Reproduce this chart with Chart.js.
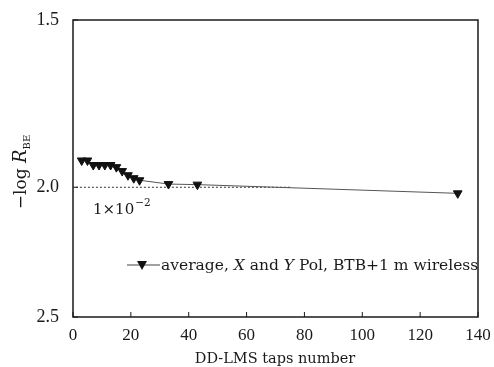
<!DOCTYPE html>
<html>
<head>
<meta charset="utf-8">
<script src="https://cdn.jsdelivr.net/npm/chart.js@4.4.0/dist/chart.umd.min.js"></script>
<style>
  html, body { margin: 0; padding: 0; background: #fff; }
  #wrap { width: 494px; height: 367px; }
</style>
</head>
<body>
<div id="wrap"><canvas id="myChart"></canvas></div>
<script>
// values
var taps = [3, 5, 7, 9, 11, 13, 15, 17, 19, 21, 23, 33, 43, 133];
var logBer = [1.91, 1.91, 1.925, 1.925, 1.925, 1.925, 1.932, 1.945, 1.959, 1.969, 1.976, 1.989, 1.991, 2.021];
var xTicks = [0, 20, 40, 60, 80, 100, 120, 140];
var yTicks = [1.5, 2.0, 2.5];
var limitX = [1, 75];
var limitY = 2.0;

var serif = "'Liberation Serif', 'DejaVu Serif', serif";
var wide = "'DejaVu Serif', serif";
var ink = "#1a1a1a";

// box, inward ticks, axis titles, legend and the 1x10^-2 label
let decorations = {
    id: "decorations",
    afterDraw: (chart) => {
        var ctx = chart.ctx;
        var a = chart.chartArea;
        var xs = chart.scales.x;
        var ys = chart.scales.y;
        ctx.save();
        ctx.strokeStyle = ink;
        ctx.lineWidth = 1.5;
        ctx.strokeRect(a.left, a.top, a.right - a.left, a.bottom - a.top);

        ctx.lineWidth = 1;
        xTicks.forEach((v) => {
            var px = xs.getPixelForValue(v);
            ctx.beginPath();
            ctx.moveTo(px, a.bottom);
            ctx.lineTo(px, a.bottom - 5);
            ctx.stroke();
        });
        yTicks.forEach((v) => {
            var py = ys.getPixelForValue(v);
            ctx.beginPath();
            ctx.moveTo(a.left, py);
            ctx.lineTo(a.left + 5, py);
            ctx.stroke();
        });

        ctx.fillStyle = ink;
        ctx.textBaseline = "alphabetic";

        // x title
        ctx.font = "14.5px " + wide;
        ctx.textAlign = "center";
        ctx.fillText("DD-LMS taps number", 275, 363);

        // y title, rotated
        ctx.save();
        ctx.translate(26, 172);
        ctx.rotate(-Math.PI / 2);
        var parts = [
            { t: "\u2212log ", f: "17px " + wide, dy: 0 },
            { t: "R", f: "italic 18px " + wide, dy: 0 },
            { t: "BE", f: "10px " + wide, dy: 4 },
        ];
        var w = 0;
        parts.forEach((p) => { ctx.font = p.f; w += ctx.measureText(p.t).width; });
        var cx = -w / 2;
        ctx.textAlign = "left";
        parts.forEach((p) => {
            ctx.font = p.f;
            ctx.fillText(p.t, cx, p.dy);
            cx += ctx.measureText(p.t).width;
        });
        ctx.restore();

        // 1x10^-2 label
        ctx.textAlign = "left";
        ctx.font = "15px " + wide;
        var lx = 93, ly = 214;
        ctx.fillText("1\u00d710", lx, ly);
        lx += ctx.measureText("1\u00d710").width;
        ctx.font = "10.5px " + wide;
        ctx.fillText("\u22122", lx + 1, ly - 8);

        // legend
        var gy = 265;
        ctx.strokeStyle = "#444";
        ctx.lineWidth = 1;
        ctx.beginPath();
        ctx.moveTo(127, gy);
        ctx.lineTo(160, gy);
        ctx.stroke();
        ctx.fillStyle = "#111";
        ctx.beginPath();
        ctx.moveTo(137, gy - 4);
        ctx.lineTo(147, gy - 4);
        ctx.lineTo(142, gy + 5);
        ctx.closePath();
        ctx.fill();
        ctx.fillStyle = ink;
        var leg = [
            { t: "average, ", f: "15.5px " + wide },
            { t: "X", f: "italic 15.5px " + wide },
            { t: " and ", f: "15.5px " + wide },
            { t: "Y", f: "italic 15.5px " + wide },
            { t: " Pol, BTB+1 m wireless", f: "15.5px " + wide },
        ];
        var tx = 161;
        leg.forEach((p) => {
            ctx.font = p.f;
            ctx.fillText(p.t, tx, gy + 5);
            tx += ctx.measureText(p.t).width;
        });
        ctx.restore();
    },
};

let noEdgePadding = (scale) => {
    scale.paddingTop = 0;
    scale.paddingBottom = 0;
    scale.paddingLeft = 0;
    scale.paddingRight = 0;
};

var ctx = document.getElementById("myChart").getContext("2d");
var myChart = new Chart(ctx, {
    type: "line",
    data: {
        datasets: [
            {
                label: "average",
                data: taps.map((x, i) => ({ x: x, y: logBer[i] })),
                borderColor: "#555",
                borderWidth: 1,
                pointStyle: "triangle",
                rotation: 180,
                pointRadius: 5,
                pointBackgroundColor: "#111",
                pointBorderColor: "#111",
                pointBorderWidth: 1,
                tension: 0,
            },
            {
                label: "limit",
                data: limitX.map((x) => ({ x: x, y: limitY })),
                borderColor: "#333",
                borderWidth: 1,
                borderDash: [2, 2],
                pointRadius: 0,
            },
        ],
    },
    plugins: [decorations],
    options: {
        responsive: true,
        maintainAspectRatio: false,
        animation: false,
        layout: { padding: { left: 0, right: 16, top: 20, bottom: 0 } },
        plugins: {
            legend: { display: false },
            tooltip: { enabled: false },
        },
        scales: {
            x: {
                type: "linear",
                min: 0,
                max: 140,
                afterBuildTicks: (scale) => {
                    scale.ticks = xTicks.map((v) => ({ value: v }));
                },
                afterFit: (scale) => { scale.height = 50; noEdgePadding(scale); },
                grid: { display: false, drawTicks: false },
                border: { display: false },
                ticks: {
                    padding: 8,
                    color: ink,
                    maxRotation: 0,
                    font: { family: serif, size: 17 },
                },
            },
            y: {
                type: "logarithmic",
                min: 1.5,
                max: 2.5,
                reverse: true,
                afterBuildTicks: (scale) => {
                    scale.ticks = yTicks.map((v) => ({ value: v }));
                },
                afterFit: (scale) => { scale.width = 73; noEdgePadding(scale); },
                grid: { display: false, drawTicks: false },
                border: { display: false },
                ticks: {
                    padding: 14,
                    color: ink,
                    font: { family: serif, size: 18 },
                    callback: (v) => Number(v).toFixed(1),
                },
            },
        },
    },
});
</script>
</body>
</html>
